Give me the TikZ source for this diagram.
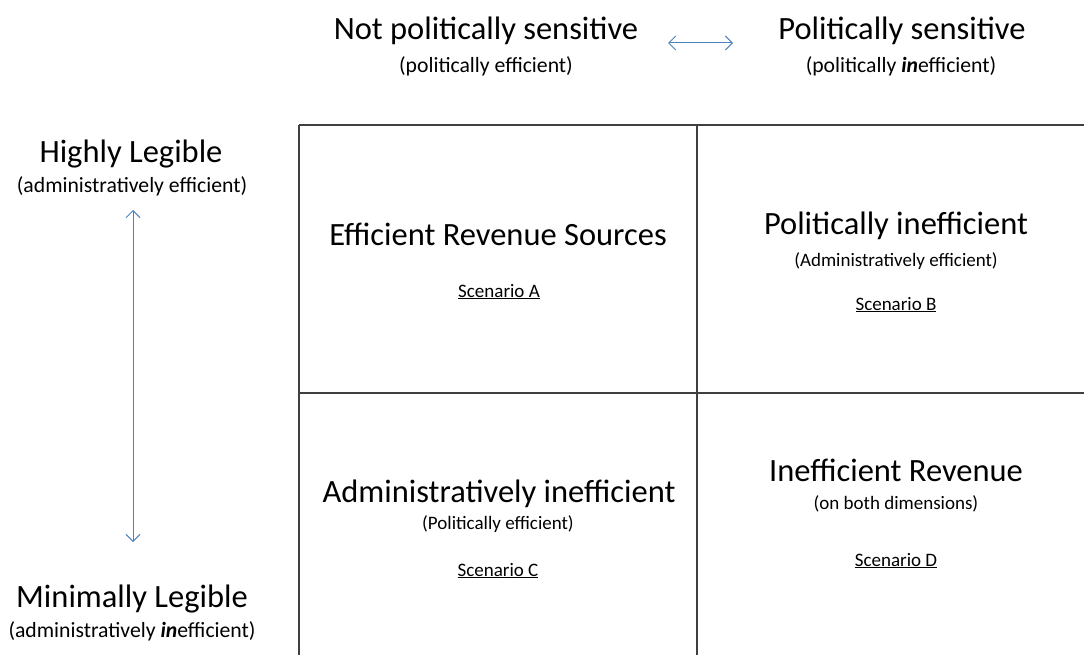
\documentclass[tikz,border=0pt]{standalone}
\usepackage{fontspec}
\setmainfont{Carlito}
\usetikzlibrary{arrows.meta}
\definecolor{arrowblue}{HTML}{4F81BD}
\definecolor{gridline}{HTML}{404040}
\tikzset{
  txt/.style={anchor=base, inner sep=0pt, outer sep=0pt},
  big/.style={txt, font=\fontsize{32.5}{39}\selectfont},
  mid/.style={txt, font=\fontsize{21.7}{26}\selectfont},
  small/.style={txt, font=\fontsize{19}{23}\selectfont},
  gridl/.style={draw=gridline, line width=1.4pt},
  axisarrow/.style={draw=arrowblue, line width=1pt, {Straight Barb[length=7pt,width=14pt]}-{Straight Barb[length=7pt,width=14pt]}},
}
\begin{document}
\begin{tikzpicture}[x=1pt, y=-1pt]
\useasboundingbox (0,0) rectangle (1084,655);
% grid
\coordinate (gTL) at (299,125);
\coordinate (gTR) at (1084,125);
\coordinate (gBL) at (299,655);
\coordinate (gMT) at (697,125);
\coordinate (gMB) at (697,655);
\coordinate (gML) at (299,393);
\coordinate (gMR) at (1084,393);
\draw[gridl] (gTL) -- (gTR);
\draw[gridl] (gTL) -- (gBL);
\draw[gridl] (gMT) -- (gMB);
\draw[gridl] (gML) -- (gMR);
% top labels
\node[big] (t1) at (486,40) {Not politically sensitive};
\node[mid] (t2) at (486,73) {(politically efficient)};
\node[big] (t3) at (902,40) {Politically sensitive};
\node[mid] (t4) at (901,73) {(politically \textbf{\textit{in}}efficient)};
\coordinate (ha) at (668,43);
\coordinate (hb) at (733,43);
\draw[axisarrow] (ha) -- (hb);
% left labels
\node[big] (l1) at (131,163) {Highly Legible};
\node[mid] (l2) at (132,193) {(administratively efficient)};
\node[big] (l3) at (132,607) {Minimally Legible};
\node[mid] (l4) at (132,637) {(administratively \textbf{\textit{in}}efficient)};
\coordinate (va) at (133,210);
\coordinate (vb) at (133,542);
\draw[axisarrow] (va) -- (vb);
% cell A
\node[big] (a1) at (498,245) {Efficient Revenue Sources};
\node[small] (a2) at (499,297) {\underline{Scenario A}};
% cell B
\node[big] (b1) at (896,234) {Politically inefficient};
\node[small] (b2) at (896,266) {(Administratively efficient)};
\node[small] (b3) at (896,310) {\underline{Scenario B}};
% cell C
\node[big] (c1) at (499,502) {Administratively inefficient};
\node[small] (c2) at (498,529) {(Politically efficient)};
\node[small] (c3) at (498,576) {\underline{Scenario C}};
% cell D
\node[big] (d1) at (896,481) {Inefficient Revenue};
\node[small] (d2) at (896,509) {(on both dimensions)};
\node[small] (d3) at (896,566) {\underline{Scenario D}};
\end{tikzpicture}
\end{document}
